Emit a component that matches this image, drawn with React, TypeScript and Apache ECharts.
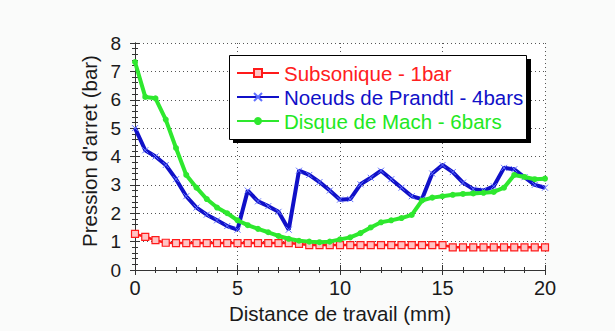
import React, { useEffect, useRef } from "react";
import * as echarts from "echarts";

const xValues = [0, 0.5, 1, 1.5, 2, 2.5, 3, 3.5, 4, 4.5, 5, 5.5, 6, 6.5, 7, 7.5, 8, 8.5, 9, 9.5, 10, 10.5, 11, 11.5, 12, 12.5, 13, 13.5, 14, 14.5, 15, 15.5, 16, 16.5, 17, 17.5, 18, 18.5, 19, 19.5, 20];

const subsonique = [1.27, 1.17, 1.05, 0.96, 0.95, 0.95, 0.95, 0.95, 0.95, 0.95, 0.95, 0.95, 0.95, 0.95, 0.95, 0.95, 0.92, 0.88, 0.88, 0.88, 0.88, 0.88, 0.88, 0.88, 0.88, 0.88, 0.88, 0.88, 0.88, 0.88, 0.88, 0.8, 0.8, 0.8, 0.8, 0.8, 0.8, 0.8, 0.8, 0.8, 0.8];

const prandtl = [5.0, 4.22, 4.0, 3.7, 3.2, 2.6, 2.2, 1.95, 1.75, 1.55, 1.42, 2.8, 2.42, 2.25, 2.05, 1.42, 3.5, 3.35, 3.1, 2.8, 2.48, 2.5, 3.02, 3.25, 3.5, 3.2, 2.9, 2.6, 2.5, 3.4, 3.7, 3.45, 3.08, 2.85, 2.8, 2.95, 3.6, 3.55, 3.27, 3.0, 2.9];

const mach = [7.33, 6.1, 6.05, 5.3, 4.3, 3.35, 2.9, 2.5, 2.2, 2.0, 1.75, 1.58, 1.45, 1.33, 1.2, 1.1, 1.03, 1.0, 0.98, 1.0, 1.08, 1.15, 1.3, 1.5, 1.68, 1.75, 1.83, 1.94, 2.45, 2.55, 2.6, 2.65, 2.68, 2.7, 2.72, 2.75, 2.9, 3.35, 3.28, 3.2, 3.22];

const seriesNames = ["Subsonique - 1bar", "Noeuds de Prandtl - 4bars", "Disque de Mach - 6bars"];
const xTitle = "Distance de travail (mm)";
const yTitle = "Pression d'arret (bar)";

const FONT = "'Liberation Sans', Arial, Helvetica, sans-serif";
const TEXT = "#1a1a1a";
const AXIS = "#333333";

export default function App() {
  const ref = useRef<HTMLDivElement>(null);
  useEffect(() => {
    if (!ref.current) return;
    const chart = echarts.init(ref.current, undefined, { renderer: "svg" });
    const pair = (ys: number[]) => xValues.map((x, i) => [x, ys[i]]);
    const axisCommon = {
      type: "value" as const,
      axisLine: { show: true, lineStyle: { color: AXIS, width: 1 } },
      axisTick: { show: true, inside: true, length: 5, lineStyle: { color: AXIS } },
      minorTick: { show: true, splitNumber: 5, length: 3, lineStyle: { color: AXIS } },
    };
    chart.setOption({
      animation: false,
      backgroundColor: "#fafbfa",
      textStyle: { fontFamily: FONT },
      grid: { left: 135, right: 70, top: 43, bottom: 61, show: true, backgroundColor: "#ffffff", borderWidth: 0 },
      xAxis: [
        {
          ...axisCommon,
          position: "bottom",
          min: 0,
          max: 20,
          interval: 5,
          axisLabel: { color: TEXT, fontSize: 20, margin: 8, fontFamily: FONT },
          splitLine: { show: true, lineStyle: { color: "#555", type: [1, 3], width: 1 } },
          name: xTitle,
          nameLocation: "middle",
          nameGap: 27,
          nameTextStyle: { color: TEXT, fontSize: 20.5, fontFamily: FONT },
        },
        {
          ...axisCommon,
          position: "top",
          min: 0,
          max: 20,
          interval: 5,
          axisLabel: { show: false },
          splitLine: { show: false },
        },
      ],
      yAxis: [
        {
          ...axisCommon,
          position: "left",
          min: 0,
          max: 8,
          interval: 1,
          axisLabel: { color: TEXT, fontSize: 19, margin: 14, padding: [0, 0, 4, 0], fontFamily: FONT },
          splitLine: { show: true, lineStyle: { color: "#555", type: [1, 3], width: 1 } },
          name: yTitle,
          nameLocation: "middle",
          nameGap: 31,
          nameTextStyle: { color: TEXT, fontSize: 20.5, fontFamily: FONT, padding: [0, 0, 0, 11] },
        },
        {
          ...axisCommon,
          position: "right",
          min: 0,
          max: 8,
          interval: 1,
          axisLabel: { show: false },
          splitLine: { show: false },
        },
      ],
      legend: {
        orient: "vertical",
        left: 236,
        top: 62,
        padding: 0,
        itemGap: 2,
        itemWidth: 42,
        itemHeight: 10,
        z: 10,
        textStyle: { fontSize: 20.5, fontFamily: FONT, lineHeight: 22, padding: [0, 0, 0, 0] },
        data: [
          { name: seriesNames[0], textStyle: { color: "#ff2020" } },
          { name: seriesNames[1], textStyle: { color: "#1010c8" } },
          { name: seriesNames[2], textStyle: { color: "#22e822" } },
        ],
      },
      graphic: [
        { type: "rect", z: 5, shape: { x: 233, y: 59, width: 298, height: 84 }, style: { fill: "#000" } },
        { type: "rect", z: 6, shape: { x: 229.5, y: 55.5, width: 297, height: 84 }, style: { fill: "#fff", stroke: "#000", lineWidth: 1 } },
      ],
      series: [
        {
          name: seriesNames[0],
          type: "line",
          data: pair(subsonique),
          symbol: "rect",
          symbolSize: 7,
          showAllSymbol: true,
          lineStyle: { color: "#ff1a1a", width: 2.5 },
          itemStyle: { color: "#ffc4c4", borderColor: "#ff1a1a", borderWidth: 1.2, opacity: 1 },
          z: 2,
        },
        {
          name: seriesNames[1],
          type: "line",
          data: pair(prandtl),
          symbol: "path://M0,0L10,10M10,0L0,10",
          symbolSize: 6,
          showAllSymbol: true,
          lineStyle: { color: "#1010c8", width: 4 },
          itemStyle: { color: "#1010c8", borderColor: "#6070ff", borderWidth: 1 },
          z: 3,
        },
        {
          name: seriesNames[2],
          type: "line",
          data: pair(mach),
          symbol: "circle",
          symbolSize: 6,
          showAllSymbol: true,
          lineStyle: { color: "#2ee82e", width: 4 },
          itemStyle: { color: "#2ee82e" },
          z: 4,
        },
      ],
    });
    return () => chart.dispose();
  }, []);
  return <div ref={ref} style={{ position: "fixed", left: 0, top: 0, width: 615, height: 331 }} />;
}
